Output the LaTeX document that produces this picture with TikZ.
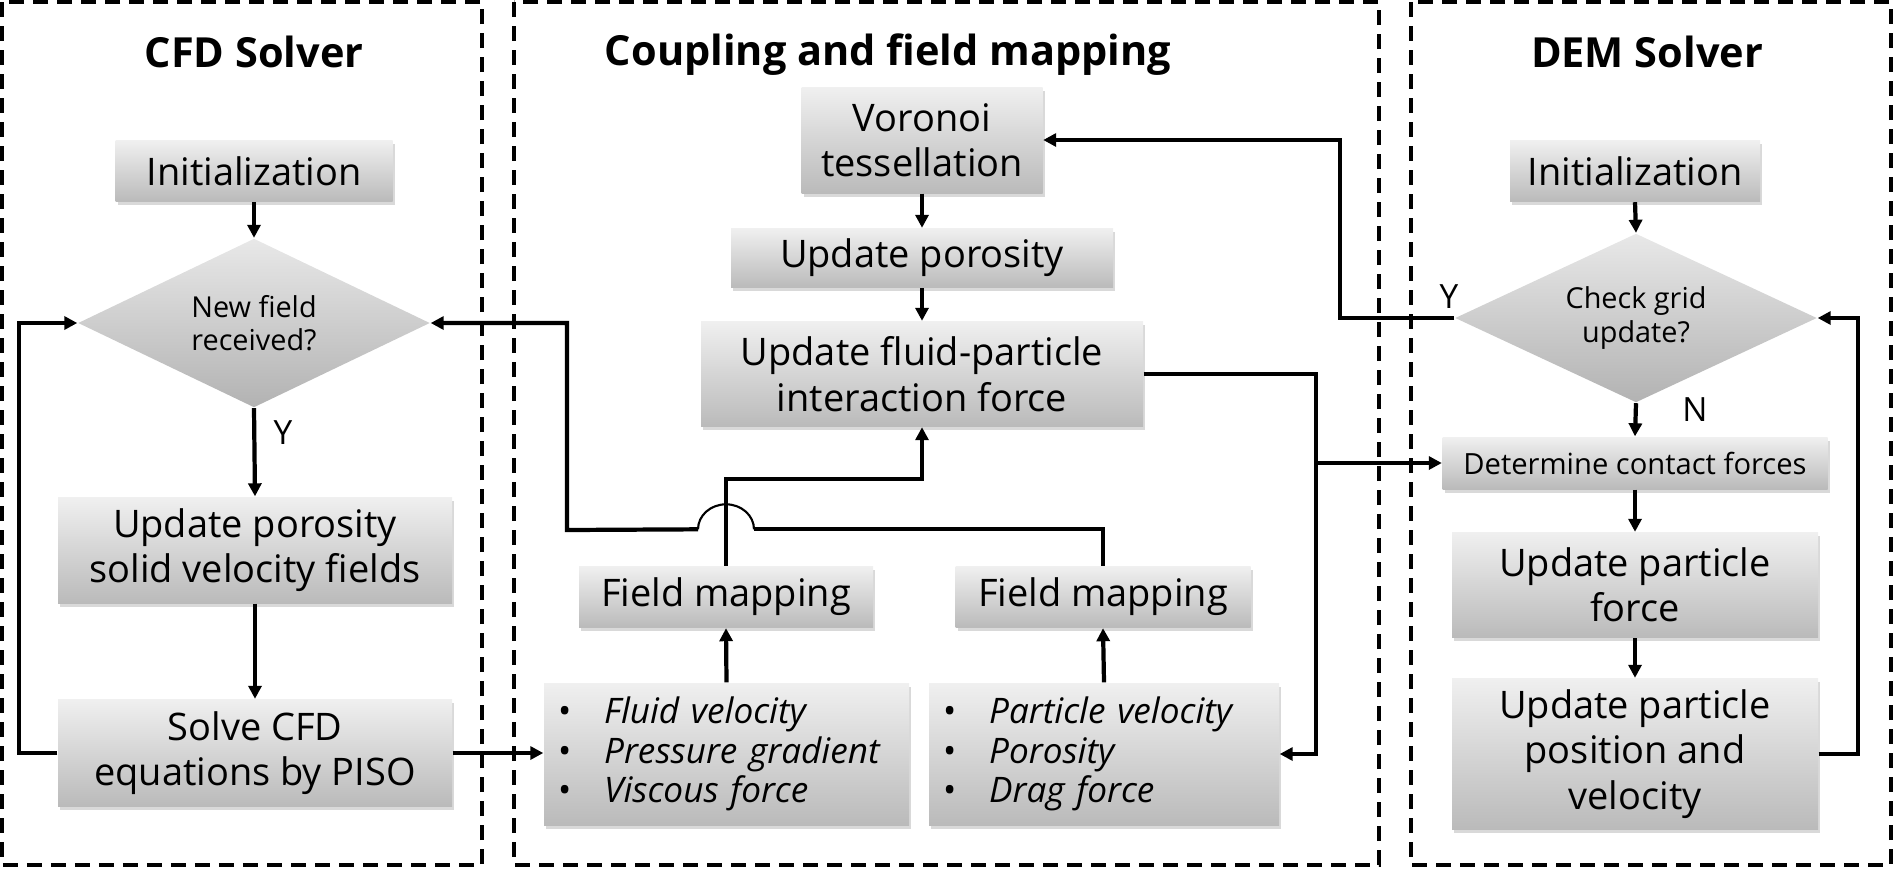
\documentclass[tikz,border=0pt]{standalone}
\usepackage{fontspec}
\setmainfont{Open Sans}
\usetikzlibrary{positioning, arrows.meta, calc, shapes.geometric, shadows}

\newcommand{\itm}[1]{\textbullet\hspace{3.3mm}\textit{#1}}

\begin{document}
\begin{tikzpicture}[
  every node/.style={font=\fontsize{10.8}{12.9}\selectfont},
  box/.style={rectangle, top color=black!6, bottom color=black!27, align=center, inner sep=0pt,
    drop shadow={shadow xshift=0.2mm, shadow yshift=-0.35mm, opacity=0.3}},
  dec/.style={diamond, aspect=2, top color=black!9, bottom color=black!30, align=center, inner sep=0pt,
    font=\fontsize{8.2}{9.4}\selectfont},
  lst/.style={box, align=left, inner xsep=1.4mm, font=\fontsize{10}{11.2}\selectfont},
  ttl/.style={font=\bfseries\fontsize{11.8}{14}\selectfont},
  panel/.style={line width=1.1pt, dash pattern=on 1.5mm off 0.9mm},
  conn/.style={line width=1.2pt},
  arr/.style={conn, -{Triangle[length=1.3mm, width=1.3mm]}},
  yn/.style={font=\fontsize{9.5}{11}\selectfont}
]
\useasboundingbox (0,0) rectangle (18.94,-8.71);

% ---------- Panels ----------
\draw[panel] (0.02,-0.02) rectangle (4.82,-8.65);
\draw[panel] (5.14,-0.02) rectangle (13.79,-8.65);
\draw[panel] (14.11,-0.02) rectangle (18.91,-8.65);

\node[ttl] (t1) at (2.54,-0.52) {CFD Solver};
\node[ttl] (t2) at (8.88,-0.55) {Coupling and field mapping};
\node[ttl] (t3) at (16.47,-0.52) {DEM Solver};

% ---------- CFD solver ----------
\node[box, minimum width=2.77cm, minimum height=0.61cm] (cinit) at (2.54,-1.71) {Initialization};
\node[dec, minimum width=3.52cm, minimum height=1.69cm] (cdec) at (2.54,-3.23) {New field\\received?};
\node[box, minimum width=3.94cm, minimum height=1.06cm] (cupd) at (2.55,-5.50) {Update porosity\\solid velocity fields};
\node[box, minimum width=3.94cm, minimum height=1.07cm] (csolve) at (2.55,-7.53) {Solve CFD\\equations by PISO};

% ---------- Coupling ----------
\node[box, minimum width=2.41cm, minimum height=1.06cm] (voro) at (9.22,-1.40) {Voronoi\\tessellation};
\node[box, minimum width=3.82cm, minimum height=0.59cm] (poro) at (9.22,-2.58) {Update porosity};
\node[box, minimum width=4.42cm, minimum height=1.05cm] (force) at (9.22,-3.74) {Update fluid-particle\\interaction force};
\node[box, minimum width=2.94cm, minimum height=0.61cm] (fmap1) at (7.26,-5.97) {Field mapping};
\node[box, minimum width=2.95cm, minimum height=0.61cm] (fmap2) at (11.03,-5.97) {Field mapping};
\node[lst, text width=3.37cm, minimum height=1.42cm] (fluid) at (7.265,-7.54)
  {\itm{Fluid velocity}\\\itm{Pressure gradient}\\\itm{Viscous force}};
\node[lst, text width=3.22cm, minimum height=1.42cm] (part) at (11.04,-7.54)
  {\itm{Particle velocity}\\\itm{Porosity}\\\itm{Drag force}};

% ---------- DEM solver ----------
\node[box, minimum width=2.50cm, minimum height=0.61cm] (dinit) at (16.35,-1.71) {Initialization};
\node[dec, minimum width=3.62cm, minimum height=1.69cm] (ddec) at (16.36,-3.18) {Check grid\\update?};
\node[box, minimum width=3.85cm, minimum height=0.52cm, font=\fontsize{8.3}{10}\selectfont] (contact) at (16.35,-4.63) {Determine contact forces};
\node[box, minimum width=3.66cm, minimum height=1.05cm] (pforce) at (16.35,-5.85) {Update particle\\force};
\node[box, minimum width=3.66cm, minimum height=1.51cm] (ppos) at (16.35,-7.54) {Update particle\\position and\\velocity};

% ---------- Arrows ----------
% CFD
\draw[arr] (cinit.south) -- (cdec.north);
\draw[arr] (cdec.south) -- (cupd.north);
\node[yn] (cy) at (2.83,-4.33) {Y};
\draw[arr] (cupd.south) -- (csolve.north);
\draw[arr] (csolve.west) -- ++(-0.38,0) |- (cdec.west);
\draw[arr] (csolve.east) -- (csolve.east -| fluid.west);
% coupling
\draw[arr] (voro.south) -- (poro.north);
\draw[arr] (poro.south) -- (force.north);
\draw[arr] (fluid.north) -- (fmap1.south);
\draw[arr] (part.north) -- (fmap2.south);
\draw[arr] (fmap1.north) -- ++(0,0.865) -| (force.south);
% field mapping 2 -> CFD decision, hopping over the line
\draw[conn] (fmap2.north) -- ++(0,0.365) coordinate (m2) -- ($(m2 -| fmap1.north)+(0.28,0)$) coordinate (hopR);
\coordinate (hopL) at ($(m2 -| fmap1.north)+(-0.28,0)$);
\draw[line width=0.6pt] (hopR) arc[start angle=0, end angle=180, x radius=0.28, y radius=0.25];
\draw[arr] (hopL) -- (5.67,-5.30) |- (cdec.east);
% DEM -> coupling
\draw[arr] (ddec.west) -- (13.40,-3.18) |- (voro.east);
\node[yn] (dy) at (14.49,-2.97) {Y};
\coordinate (br) at (13.16,-4.63);
\draw[arr] (force.east) -| (13.16,-7.54) -- (part.east);
\draw[arr] (br) -- (contact.west);
% DEM
\draw[arr] (dinit.south) -- (ddec.north);
\draw[arr] (ddec.south) -- (contact.north);
\node[yn] (dn) at (16.95,-4.10) {N};
\draw[arr] (contact.south) -- (pforce.north);
\draw[arr] (pforce.south) -- (ppos.north);
\draw[arr] (ppos.east) -- ++(0.39,0) |- (ddec.east);

\end{tikzpicture}
\end{document}
